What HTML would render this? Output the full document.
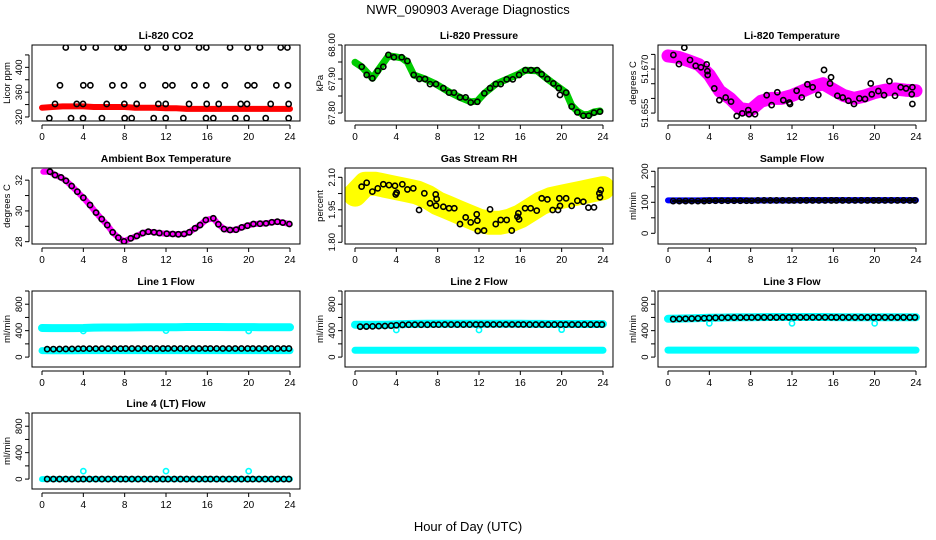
<!DOCTYPE html>
<html><head><meta charset="utf-8">
<style>
html,body{margin:0;padding:0;background:#fff;}
svg{display:block;font-family:"Liberation Sans",Arial,sans-serif;}
</style></head>
<body>
<svg id="chart" width="936" height="540" viewBox="0 0 936 540" xmlns="http://www.w3.org/2000/svg">
<text x="468" y="14" text-anchor="middle" font-size="13">NWR_090903  Average Diagnostics</text>
<text x="468" y="531" text-anchor="middle" font-size="13">Hour of Day (UTC)</text>
</svg>
<script>
// ---------------- data ----------------
const xTicks = [0,4,8,12,16,20,24];

// CO2
const co2TopH = [2.3,4.0,5.2,7.3,7.9,10.2,11.97,13.1,15.2,15.9,18.2,19.9,21.1,23.1,23.75];
const co2MidH = [1.74,4.0,4.68,6.81,7.94,9.75,11.94,12.62,14.75,15.9,17.7,19.9,20.55,22.68,23.8];
const co2LowH = [1.26,3.36,3.97,6.26,7.97,9.16,11.26,11.97,14.23,15.94,17.1,19.23,19.84,22.13,23.87];
const co2BotH = [0.71,2.81,3.97,5.8,8.0,8.68,10.81,11.97,13.68,15.87,16.58,18.7,19.8,21.65,23.87];
const co2Levels = [432,371,341,318];
const bandHours = [0,1,2,3,4,5,6,7,8,9,10,11,12,13,14,15,16,17,18,19,20,21,22,23,24];
const co2Red = [335,336,337,337,337,336,336,336,336,335,335,335,334,334,333,333,333,333,333,333,333,333,333,333,333];

// Pressure
const presH = [0.65,1.13,1.68,2.2,2.74,3.23,3.77,4.52,5.07,5.68,6.23,6.78,7.26,7.84,8.55,9.1,9.58,10.16,10.71,11.2,11.84,12.52,13.07,13.62,14.1,14.68,15.27,15.88,16.49,17.04,17.62,18.07,18.62,19.2,19.72,19.84,20.43,20.97,21.52,22.1,22.62,23.13,23.71];
const presV = [67.936,67.912,67.902,67.924,67.936,67.971,67.964,67.964,67.953,67.912,67.900,67.900,67.885,67.885,67.873,67.860,67.860,67.846,67.846,67.831,67.833,67.858,67.873,67.885,67.885,67.899,67.899,67.912,67.926,67.926,67.926,67.914,67.900,67.887,67.873,67.853,67.860,67.819,67.802,67.792,67.792,67.801,67.804];
const presGreenH = [0,0.65,1.68,2.2,3.23,3.77,4.52,5.07,5.68,6.78,7.84,9.1,10.16,11.2,11.84,12.52,13.62,14.68,15.88,16.49,17.62,18.62,19.2,20.43,20.97,21.52,22.1,22.62,23.13,23.71];
const presGreenV = [67.949,67.936,67.902,67.924,67.968,67.966,67.962,67.950,67.912,67.900,67.885,67.862,67.846,67.833,67.835,67.858,67.885,67.899,67.915,67.926,67.924,67.900,67.887,67.860,67.822,67.805,67.795,67.796,67.803,67.806];

// Li-820 temperature
const tempH = [0.52,1.06,1.58,2.13,2.68,3.19,3.74,3.81,3.84,4.48,4.97,5.58,6.1,6.65,7.19,7.77,7.84,8.42,9.55,10.03,10.58,11.16,11.74,11.81,12.45,12.94,13.49,14.0,14.55,15.1,15.68,15.78,16.39,16.91,17.46,18.0,18.52,19.07,19.62,19.72,20.36,20.91,21.43,21.97,22.52,23.04,23.65,23.59,23.65];
const tempV = [51.6748,51.6717,51.6773,51.6731,51.6711,51.6706,51.6716,51.6693,51.6680,51.6634,51.6594,51.6603,51.6589,51.6540,51.6549,51.6560,51.6546,51.6546,51.6611,51.6577,51.6621,51.6594,51.6586,51.6581,51.6626,51.6603,51.6648,51.6638,51.6612,51.6697,51.6651,51.6672,51.6609,51.6603,51.6592,51.6581,51.6600,51.6598,51.6651,51.6614,51.6625,51.6611,51.6659,51.6609,51.6638,51.6634,51.6638,51.6614,51.6581];
const tempMag = [51.6745,51.6740,51.6728,51.6715,51.6680,51.6625,51.6600,51.6565,51.6560,51.6590,51.6600,51.6600,51.6610,51.6625,51.6640,51.6650,51.6630,51.6610,51.6600,51.6608,51.6620,51.6628,51.6632,51.6628,51.6626];

// Ambient box temperature
const ambH = [0.13,0.77,1.26,1.84,2.32,2.87,3.42,4.0,4.65,5.23,5.78,6.32,6.84,7.39,7.94,8.59,9.17,9.75,10.29,10.84,11.36,12.07,12.65,13.2,13.75,14.26,14.81,15.3,15.85,16.58,17.07,17.62,18.2,18.78,19.33,19.88,20.46,21.1,21.68,22.24,22.78,23.3,23.94];
const ambV = [32.55,32.55,32.33,32.18,31.96,31.62,31.25,30.86,30.38,29.89,29.47,29.08,28.61,28.26,28.02,28.22,28.37,28.56,28.65,28.61,28.56,28.52,28.50,28.48,28.50,28.61,28.87,29.08,29.41,29.52,29.13,28.82,28.76,28.78,28.93,29.04,29.15,29.17,29.19,29.26,29.30,29.24,29.15];

// Gas stream RH
const rhH = [0.64,1.13,1.68,2.2,2.74,3.29,3.87,3.94,4.03,4.58,5.07,5.64,6.2,6.71,7.26,7.81,7.9,7.84,8.55,9.1,9.61,10.16,10.71,11.2,11.78,11.84,11.88,12.49,13.07,13.62,14.1,14.68,15.17,15.72,15.81,15.88,16.46,17.0,17.59,18.07,18.62,19.13,19.65,19.78,19.84,20.43,20.97,21.52,22.1,22.59,23.13,23.65,23.78,23.71];
const rhV = [2.057,2.075,2.034,2.049,2.068,2.064,2.061,2.021,2.029,2.068,2.044,2.049,1.949,2.026,1.980,2.021,2.000,1.969,1.964,1.957,1.957,1.884,1.915,1.892,1.929,1.900,1.852,1.854,1.952,1.884,1.903,1.903,1.854,1.918,1.934,1.906,1.957,1.957,1.946,2.003,1.998,1.949,1.949,2.003,1.968,2.003,1.968,1.992,1.987,1.960,1.961,2.026,2.041,2.008];
const rhYellow = [2.02,2.07,2.07,2.06,2.05,2.04,2.03,2.01,1.98,1.96,1.94,1.92,1.90,1.89,1.89,1.90,1.92,1.95,1.98,2.00,2.01,2.02,2.03,2.04,2.05];

// Flows
const flowHours = [0.5,1.1,1.7,2.3,2.9,3.5,4.0,4.6,5.2,5.8,6.4,7.0,7.6,8.1,8.7,9.3,9.9,10.5,11.1,11.7,12.2,12.8,13.4,14.0,14.6,15.2,15.8,16.3,16.9,17.5,18.1,18.7,19.3,19.9,20.4,21.0,21.6,22.2,22.8,23.4,23.9];
const sampleBlack = [104,104,104,104,104,104,105,105,105,105,105,105,105,105,106,106,106,106,106,106,106,106,106,106,106,106,106,106,106,106,106,106,106,106,106,106,106,106,106,106,106];
const sampleBlue = [106,106,106,106,107,107,107,107,106,106,106,106,106,107,107,107,107,107,107,107,107,107,107,107,107];
const line1Black = [120,121,122,123,124,126,128,128,128,128,128,128,128,129,129,129,129,129,129,129,130,130,130,130,130,130,130,130,130,130,130,130,130,130,130,130,130,130,130,130,130];
const line1CyanTop = [440,438,438,438,440,446,447,447,448,449,450,452,452,452,455,455,455,455,454,454,453,452,452,451,451];
const line1CyanBot = [98,97,97,97,98,98,98,98,98,98,98,98,98,98,98,98,98,98,98,98,98,98,98,98,98];
const line2Black = [460,462,465,468,470,475,482,488,490,490,490,490,491,491,492,492,492,492,492,493,493,493,493,493,493,493,493,493,492,492,492,492,492,492,492,492,492,492,492,492,492];
const line2CyanTop = [490,488,488,490,495,500,502,503,503,503,503,503,503,503,503,503,503,502,502,500,500,500,500,500,500];
const line2CyanBot = [102,102,102,102,102,102,102,102,102,102,102,102,102,102,102,102,102,102,102,102,102,102,102,102,102];
const line3Black = [575,578,580,583,586,588,592,594,596,597,598,598,599,599,600,600,600,600,601,601,601,601,601,601,601,601,601,600,600,600,600,600,600,600,600,600,600,600,600,600,600];
const line3CyanTop = [580,582,585,590,595,598,600,602,603,605,606,606,606,606,606,606,605,604,603,602,602,602,602,602,602];
const line3CyanBot = [105,105,105,105,105,105,105,105,105,105,105,105,105,105,105,105,105,105,105,105,105,105,105,105,105];
const line4Black = [0,0,0,0,0,0,0,0,0,0,0,0,0,0,0,0,0,0,0,0,0,0,0,0,0,0,0,0,0,0,0,0,0,0,0,0,0,0,0,0,0];
const line4Cyan = [0,0,0,0,0,0,0,0,0,0,0,0,0,0,0,0,0,0,0,0,0,0,0,0,0];
const dipHours = [4,12,20];
const line1Dips = [395,400,395];
const line2Dips = [410,410,415];
const line3Dips = [510,510,510];
const line4Spikes = [120,120,120];

// ---------------- drawing ----------------
const NS = 'http://www.w3.org/2000/svg';
const svg = document.getElementById('chart');
const colX0 = [42,355,668];
const rowTop = [45,168,291,413];
const PXH = 10.333, BOXH = 76;

function mk(tag, attrs, parent){
  const e = document.createElementNS(NS, tag);
  for (const k in attrs) e.setAttribute(k, attrs[k]);
  (parent||svg).appendChild(e);
  return e;
}

function panel(name, col, row, title, ylab, ymin, ymax, yTicks, yLabels){
  const g = mk('g', {});
  
  
  const x0 = colX0[col], top = rowTop[row], bot = top + BOXH;
  const L = x0 - 10, R = x0 + 24*PXH + 10;
  const p = {
    g: g,
    x: h => x0 + h*PXH,
    y: v => bot - (v - ymin)/(ymax - ymin)*BOXH
  };
  const t = mk('text', {x:(L+R)/2, y:top-6, 'text-anchor':'middle', 'font-size':'10.5', 'font-weight':'bold'}, g);
  t.textContent = title;
  
  
  // x axis
  const xa = mk('g', {}, g);
  
  
  mk('line', {x1:p.x(0), x2:p.x(24), y1:bot+4, y2:bot+4, stroke:'#000', 'stroke-width':1}, xa);
  xTicks.forEach(h => {
    mk('line', {x1:p.x(h), x2:p.x(h), y1:bot+4, y2:bot+8, stroke:'#000', 'stroke-width':1}, xa);
    const tl = mk('text', {x:p.x(h), y:bot+19, 'text-anchor':'middle', 'font-size':'10'}, xa);
    tl.textContent = h;
  });
  // y axis
  const ya = mk('g', {}, g);
  
  
  mk('line', {x1:L-3, x2:L-3, y1:p.y(yTicks[0]), y2:p.y(yTicks[yTicks.length-1]), stroke:'#000', 'stroke-width':1}, ya);
  yTicks.forEach((v,i) => {
    const yy = p.y(v);
    mk('line', {x1:L-7, x2:L-3, y1:yy, y2:yy, stroke:'#000', 'stroke-width':1}, ya);
    if (yLabels[i]) {
      const tl = mk('text', {x:L-10, y:yy, 'text-anchor':'middle', 'font-size':'9.5', transform:'rotate(-90 '+(L-10)+' '+yy+')'}, ya);
      tl.textContent = yLabels[i];
    }
  });
  const yt = mk('text', {x:L-22, y:(top+bot)/2, 'text-anchor':'middle', 'font-size':'9.5', transform:'rotate(-90 '+(L-22)+' '+((top+bot)/2)+')'}, g);
  yt.textContent = ylab;
  
  
  // clip + box
  const cid = 'clip-' + name;
  const cp = mk('clipPath', {id:cid}, g);
  mk('rect', {x:L, y:top, width:R-L, height:BOXH}, cp);
  p.plot = mk('g', {'clip-path':'url(#'+cid+')'}, g);
  
  
  p.box = {L, R, top, bot};
  return p;
}
function finishBox(p){
  const b = mk('rect', {x:p.box.L, y:p.box.top, width:p.box.R-p.box.L, height:BOXH, fill:'none', stroke:'#000', 'stroke-width':1}, p.g);
  
  
}
function band(p, hs, vs, color, w, name){
  const pts = hs.map((h,i) => p.x(h).toFixed(1)+','+p.y(vs[i]).toFixed(1)).join(' ');
  const pl = mk('polyline', {points:pts, fill:'none', stroke:color, 'stroke-width':w, 'stroke-linejoin':'round', 'stroke-linecap':'round'}, p.plot);
  
  
}
function pts(p, hs, vs, color, name, r){
  hs.forEach((h,i) => {
    const c = mk('circle', {cx:p.x(h), cy:p.y(vs[i]), r:r||2.6, fill:'none', stroke:color, 'stroke-width':1.6}, p.plot);
    
    
  });
}
function rep(arr, v){ return arr.map(() => v); }

// CO2
let p = panel('co2', 0, 0, 'Li-820 CO2', 'Licor ppm', 313.5, 436, [320,340,360,380,400,420], ['320','','360','','400','']);
band(p, bandHours, co2Red, '#ff0000', 6, 'co2-red-band');
[co2TopH, co2MidH, co2LowH, co2BotH].forEach((hs,k) => pts(p, hs, rep(hs, co2Levels[k]), '#000', 'co2-point'));
finishBox(p);

// Pressure
p = panel('pressure', 1, 0, 'Li-820 Pressure', 'kPa', 67.7765, 68.0, [67.80,67.85,67.90,67.95,68.00], ['67.80','','67.90','','68.00']);
band(p, presGreenH, presGreenV, '#00cc00', 7, 'pressure-green-band');
pts(p, presH, presV, '#000', 'pressure-point');
finishBox(p);

// Li-820 temperature
p = panel('li820-temp', 2, 0, 'Li-820 Temperature', 'degrees C', 51.6523, 51.6782, [51.655,51.660,51.665,51.670,51.675], ['51.655','','','51.670','']);
band(p, bandHours, tempMag, '#ff00ff', 13, 'temp-magenta-band');
pts(p, tempH, tempV, '#000', 'temp-point');
finishBox(p);

// Ambient
p = panel('ambient', 0, 1, 'Ambient Box Temperature', 'degrees C', 27.85, 32.79, [28,29,30,31,32], ['28','','30','','32']);
band(p, ambH, ambV, '#ff00ff', 6, 'ambient-magenta-band');
pts(p, ambH.slice(1), ambV.slice(1), '#000', 'ambient-point');
finishBox(p);

// RH
p = panel('rh', 1, 1, 'Gas Stream RH', 'percent', 1.792, 2.143, [1.80,1.875,1.95,2.025,2.10], ['1.80','','1.95','','2.10']);
band(p, bandHours, rhYellow, '#ffff00', 24, 'rh-yellow-band');
pts(p, rhH, rhV, '#000', 'rh-point');
finishBox(p);

// Sample flow
p = panel('sample-flow', 2, 1, 'Sample Flow', 'ml/min', -34.5, 210.6, [0,50,100,150,200], ['0','','100','','200']);
band(p, bandHours, sampleBlue, '#0000ff', 6, 'sample-blue-band');
band(p, flowHours, sampleBlack, '#000', 2.5, 'sample-black-line');
pts(p, flowHours, sampleBlack, '#000', 'sample-point');
finishBox(p);

const fT = [0,200,400,600,800,1000], fL = ['0','','400','','800',''];
// Line 1
p = panel('line1-flow', 0, 2, 'Line 1 Flow', 'ml/min', -150, 1000, fT, fL);
band(p, bandHours, line1CyanTop, '#00ffff', 8, 'line1-cyan-top');
band(p, bandHours, line1CyanBot, '#00ffff', 7, 'line1-cyan-bottom');
pts(p, dipHours, line1Dips, '#00ffff', 'line1-dip');
pts(p, flowHours, line1Black, '#000', 'line1-point');
finishBox(p);

// Line 2
p = panel('line2-flow', 1, 2, 'Line 2 Flow', 'ml/min', -150, 1000, fT, fL);
band(p, bandHours, line2CyanTop, '#00ffff', 8, 'line2-cyan-top');
band(p, bandHours, line2CyanBot, '#00ffff', 7, 'line2-cyan-bottom');
pts(p, dipHours, line2Dips, '#00ffff', 'line2-dip');
pts(p, flowHours, line2Black, '#000', 'line2-point');
finishBox(p);

// Line 3
p = panel('line3-flow', 2, 2, 'Line 3 Flow', 'ml/min', -150, 1000, fT, fL);
band(p, bandHours, line3CyanTop, '#00ffff', 8, 'line3-cyan-top');
band(p, bandHours, line3CyanBot, '#00ffff', 7, 'line3-cyan-bottom');
pts(p, dipHours, line3Dips, '#00ffff', 'line3-dip');
pts(p, flowHours, line3Black, '#000', 'line3-point');
finishBox(p);

// Line 4
p = panel('line4-flow', 0, 3, 'Line 4 (LT) Flow', 'ml/min', -150, 1000, fT, fL);
band(p, bandHours, line4Cyan, '#00ffff', 6, 'line4-cyan-band');
pts(p, dipHours, line4Spikes, '#00ffff', 'line4-spike');
pts(p, flowHours, line4Black, '#000', 'line4-point');
finishBox(p);
</script>
</body></html>
